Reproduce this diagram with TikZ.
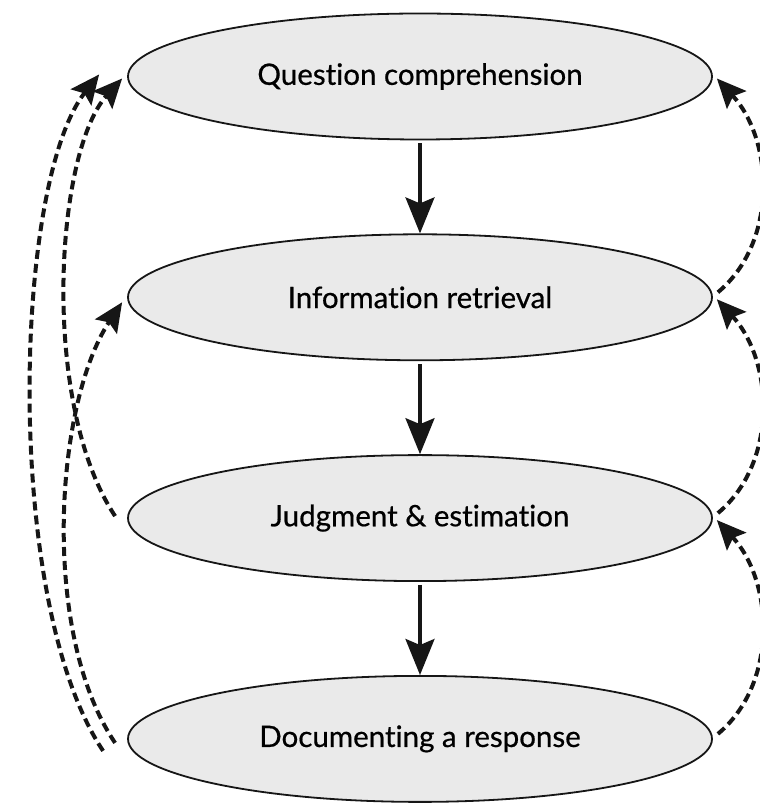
\documentclass[tikz,border=0pt]{standalone}
\usepackage{fontspec}
\setmainfont[Ligatures={NoCommon}, FakeBold=0.6]{Lato}
\usepackage{tikz}
\usetikzlibrary{positioning, shapes.geometric, arrows.meta}
\definecolor{stagefill}{RGB}{234,234,234}
\definecolor{inkline}{RGB}{22,22,22}
\tikzset{
  stage/.style={
    ellipse, draw=inkline, line width=1.8pt, fill=stagefill,
    minimum width=584pt, minimum height=126pt, inner sep=0pt,
    font=\fontsize{29.5pt}{34pt}\selectfont
  },
  flow/.style={-{Stealth[length=36pt, width=29pt, inset=6pt]}, line width=3.2pt, inkline},
  % dashed feedback back to an earlier stage
  loopback/.style={-{Stealth[length=29pt, width=26pt, inset=5pt]}, line width=4pt, inkline,
                   dash pattern=on 9pt off 5pt},
}

\begin{document}
\begin{tikzpicture}[x=1pt, y=1pt]
\useasboundingbox (0,0) rectangle (760,804);

%% ── the four stages, top to bottom ──────────────────────────────
\node[stage] (qc) at (420,727.5) {Question comprehension};
\node[stage, below=93pt of qc] (ir)  {Information retrieval};
\node[stage, below=93pt of ir] (je)  {Judgment \& estimation};
\node[stage, below=93pt of je] (doc) {Documenting a response};

%% ── forward steps ────────────────────────────────────────────────
\draw[flow] ([yshift=-3pt]qc.south) -- (ir.north);
\draw[flow] ([yshift=-3pt]ir.south) -- (je.north);
\draw[flow] ([yshift=-3pt]je.south) -- (doc.north);

%% ── feedback on the left ─────────────────────────────────────────
\draw[loopback] ([shift={(-24,-12)}]doc.west)
  .. controls +(-100,149) and +(-86,-109) .. ([shift={(-28,2)}]qc.west);
\draw[loopback] ([shift={(-12,2)}]je.west)
  .. controls +(-75,113) and +(-67,-74) .. ([shift={(-5,-2)}]qc.west);
\draw[loopback] ([shift={(-12,-4)}]doc.west)
  .. controls +(-75,111) and +(-67,-101) .. ([shift={(-5,-5)}]ir.west);

%% ── feedback on the right ────────────────────────────────────────
\draw[loopback] ([shift={(5,5)}]ir.east)
  .. controls +(60,50) and +(57,-62) .. ([shift={(4,-2)}]qc.east);
\draw[loopback] ([shift={(5,5)}]je.east)
  .. controls +(60,50) and +(57,-62) .. ([shift={(4,-2)}]ir.east);
\draw[loopback] ([shift={(5,5)}]doc.east)
  .. controls +(60,50) and +(57,-62) .. ([shift={(4,-2)}]je.east);

\end{tikzpicture}
\end{document}
